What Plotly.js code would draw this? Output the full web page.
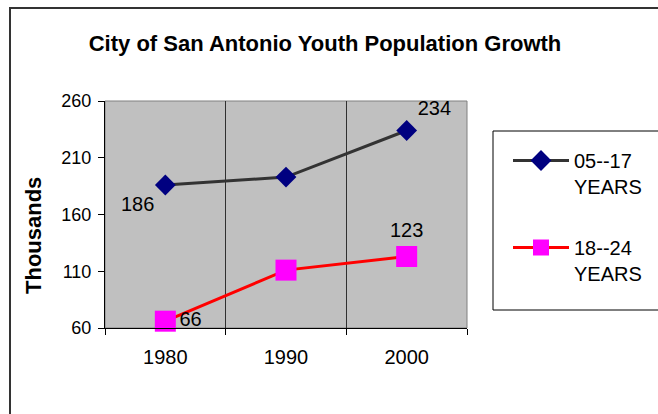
<!DOCTYPE html>
<html>
<head>
<meta charset="utf-8">
<script src="https://cdn.plot.ly/plotly-3.0.1.min.js"></script>
<style>
  html, body { margin: 0; padding: 0; background: #ffffff; }
  #chart { width: 658px; height: 414px; }
</style>
</head>
<body>
<div id="chart"></div>
<script>
const years = ['1980', '1990', '2000'];
const youth0517 = [186, 193, 234];
const youth1824 = [66, 111, 123];
const labels0517 = ['186', '', '234'];
const labels1824 = ['66', '', '123'];
const seriesNames = ['05--17<br>YEARS', '18--24<br>YEARS'];
const yTicks = [60, 110, 160, 210, 260];

const FONT = 'Liberation Sans, Arial, sans-serif';

const traces = [
  {
    type: 'scatter', mode: 'lines+markers+text',
    x: years, y: youth0517, name: seriesNames[0], legendgroup: 'a',
    text: labels0517, textposition: ['bottom left', 'top center', 'top right'],
    textfont: {family: FONT, size: 20, color: '#000'},
    line: {color: '#333333', width: 3},
    marker: {symbol: 'diamond', size: 16, color: '#000080', line: {width: 0}},
    cliponaxis: false, hoverinfo: 'none'
  },
  {
    type: 'scatter', mode: 'lines+markers+text',
    x: years, y: youth1824, name: seriesNames[1], legendgroup: 'b',
    text: labels1824, textposition: ['middle right', 'top center', 'top center'],
    textfont: {family: FONT, size: 20, color: '#000'},
    line: {color: '#FF0000', width: 3},
    marker: {symbol: 'square', size: 21, color: '#FF00FF', line: {width: 0}},
    cliponaxis: false, hoverinfo: 'none'
  }
];

const L = 105, R = 191, T = 101, B = 86;
const PW = 658 - L - R, PH = 414 - T - B;
const px = v => (v - L) / PW;
const py = v => 1 - (v - T) / PH;

const layout = {
  width: 658, height: 414,
  margin: {l: L, r: R, t: T, b: B, pad: 0, autoexpand: false},
  paper_bgcolor: '#ffffff',
  plot_bgcolor: '#C0C0C0',
  font: {family: FONT, color: '#000'},
  title: {
    text: '<b>City of San Antonio Youth Population Growth</b>',
    font: {family: FONT, size: 22, color: '#000'},
    x: 325 / 658, xref: 'container', xanchor: 'center',
    y: 1 - 43 / 414, yref: 'container', yanchor: 'middle'
  },
  xaxis: {
    type: 'category', range: [-0.5, 2.5],
    tickson: 'boundaries', ticks: 'outside', ticklen: 6, tickcolor: '#000', tickwidth: 1,
    showgrid: true, gridcolor: '#303030', gridwidth: 1,
    showline: true, linecolor: '#000', linewidth: 1,
    tickfont: {family: FONT, size: 20, color: '#000'},
    ticklabelstandoff: 11,
    zeroline: false, fixedrange: true
  },
  yaxis: {
    range: [60, 260], tickvals: yTicks, ticktext: yTicks.map(String),
    ticks: 'outside', ticklen: 6, tickcolor: '#000', tickwidth: 1,
    showgrid: false, zeroline: false,
    showline: true, linecolor: '#000', linewidth: 1,
    tickfont: {family: FONT, size: 18, color: '#000'},
    ticklabelstandoff: 3,
    fixedrange: true
  },
  annotations: [
    {text: '<b>Thousands</b>', xref: 'paper', yref: 'paper', x: px(33), y: py(236),
     xanchor: 'center', yanchor: 'middle', textangle: -90, showarrow: false,
     font: {family: FONT, size: 22, color: '#000'}}
  ],
  showlegend: true,
  legend: {
    x: px(508), xanchor: 'left', y: py(141), yanchor: 'top',
    bgcolor: 'rgba(0,0,0,0)', borderwidth: 0,
    font: {family: FONT, size: 20, color: '#000'},
    itemwidth: 56, valign: 'top', tracegroupgap: 32,
    itemclick: false, itemdoubleclick: false
  },
  shapes: [
    {type: 'rect', xref: 'paper', yref: 'paper', x0: 0, x1: 1, y0: 0, y1: 1,
     line: {color: '#808080', width: 1}, layer: 'below'},
    {type: 'rect', xref: 'paper', yref: 'paper', x0: px(493), x1: px(680), y0: py(310), y1: py(131),
     line: {color: '#000', width: 1}, fillcolor: 'rgba(0,0,0,0)'},
    {type: 'rect', xref: 'paper', yref: 'paper', x0: px(10), x1: px(680), y0: py(430), y1: py(8),
     line: {color: '#333333', width: 2}, fillcolor: 'rgba(0,0,0,0)'}
  ]
};

Plotly.newPlot('chart', traces, layout, {staticPlot: true, displayModeBar: false});
</script>
</body>
</html>
